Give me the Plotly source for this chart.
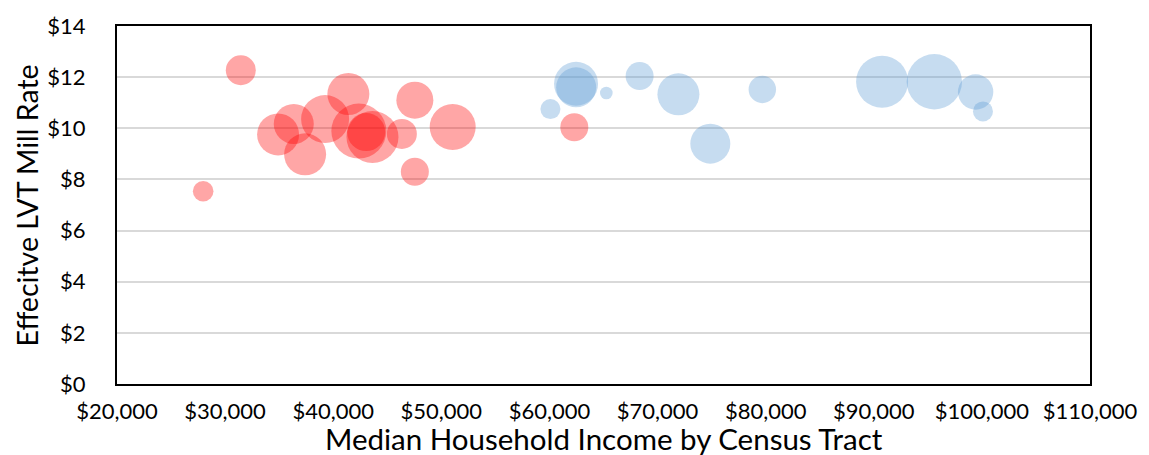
import plotly.graph_objects as go

# Census tracts with lower median income (red) and higher median income (blue)
red_income = [31450, 27970, 34900, 36350, 37400, 39250, 41400, 42370, 43630, 43050,
              46350, 47550, 47550, 51050, 62300]
red_rate = [12.27, 7.54, 9.76, 10.17, 8.98, 10.36, 11.34, 9.89, 9.66, 9.85,
            9.78, 11.10, 8.30, 10.05, 10.04]
red_size = [225, 106, 441, 400, 441, 576, 441, 756, 676, 361,
            225, 342, 196, 529, 196]

blue_income = [62460, 62470, 65260, 60090, 68340, 71930, 74880, 79690,
               90770, 95600, 99420, 100100]
blue_rate = [11.74, 11.60, 11.38, 10.75, 12.04, 11.33, 9.40, 11.52,
             11.82, 11.82, 11.42, 10.66]
blue_size = [484, 400, 40, 100, 196, 441, 400, 188,
             676, 767, 313, 100]

FONT = "Lato"

fig = go.Figure()
fig.add_trace(go.Scatter(
    x=red_income, y=red_rate, mode="markers",
    marker=dict(size=red_size, sizemode="area", sizeref=0.5,
                color="rgba(255,0,0,0.5)", line=dict(width=0)),
    showlegend=False,
))
fig.add_trace(go.Scatter(
    x=blue_income, y=blue_rate, mode="markers",
    marker=dict(size=blue_size, sizemode="area", sizeref=0.5,
                color="rgba(91,155,213,0.5)", line=dict(width=0)),
    showlegend=False,
))

fig.update_layout(
    width=1149, height=455,
    margin=dict(l=117, r=56, t=22, b=71),
    paper_bgcolor="white", plot_bgcolor="white",
    font=dict(family=FONT, color="black"),
    xaxis=dict(
        range=[20000, 110000], dtick=10000, tick0=20000,
        tickprefix="$", tickformat=",d",
        showgrid=False, zeroline=False,
        showline=True, linecolor="black", linewidth=2, mirror=True,
        ticks="", ticklabelstandoff=7,
        tickfont=dict(size=22, family=FONT),
    ),
    yaxis=dict(
        range=[0, 14], dtick=2, tick0=0,
        tickprefix="$",
        showgrid=True, gridcolor="#d9d9d9", gridwidth=1.5,
        zeroline=False,
        showline=True, linecolor="black", linewidth=2, mirror=True,
        ticks="", ticklabelstandoff=25,
        tickfont=dict(size=22, family=FONT),
    ),
    annotations=[
        dict(text="Median Household Income by Census Tract",
             xref="paper", yref="paper", x=0.5, y=-0.152,
             xanchor="center", yanchor="middle", showarrow=False,
             font=dict(size=29.5, family=FONT)),
        dict(text="Effecitve LVT Mill Rate",
             xref="paper", yref="paper", x=-0.092, y=0.5,
             xanchor="center", yanchor="middle", textangle=-90,
             showarrow=False, font=dict(size=28.5, family=FONT)),
    ],
)

fig.write_html("out.html")
